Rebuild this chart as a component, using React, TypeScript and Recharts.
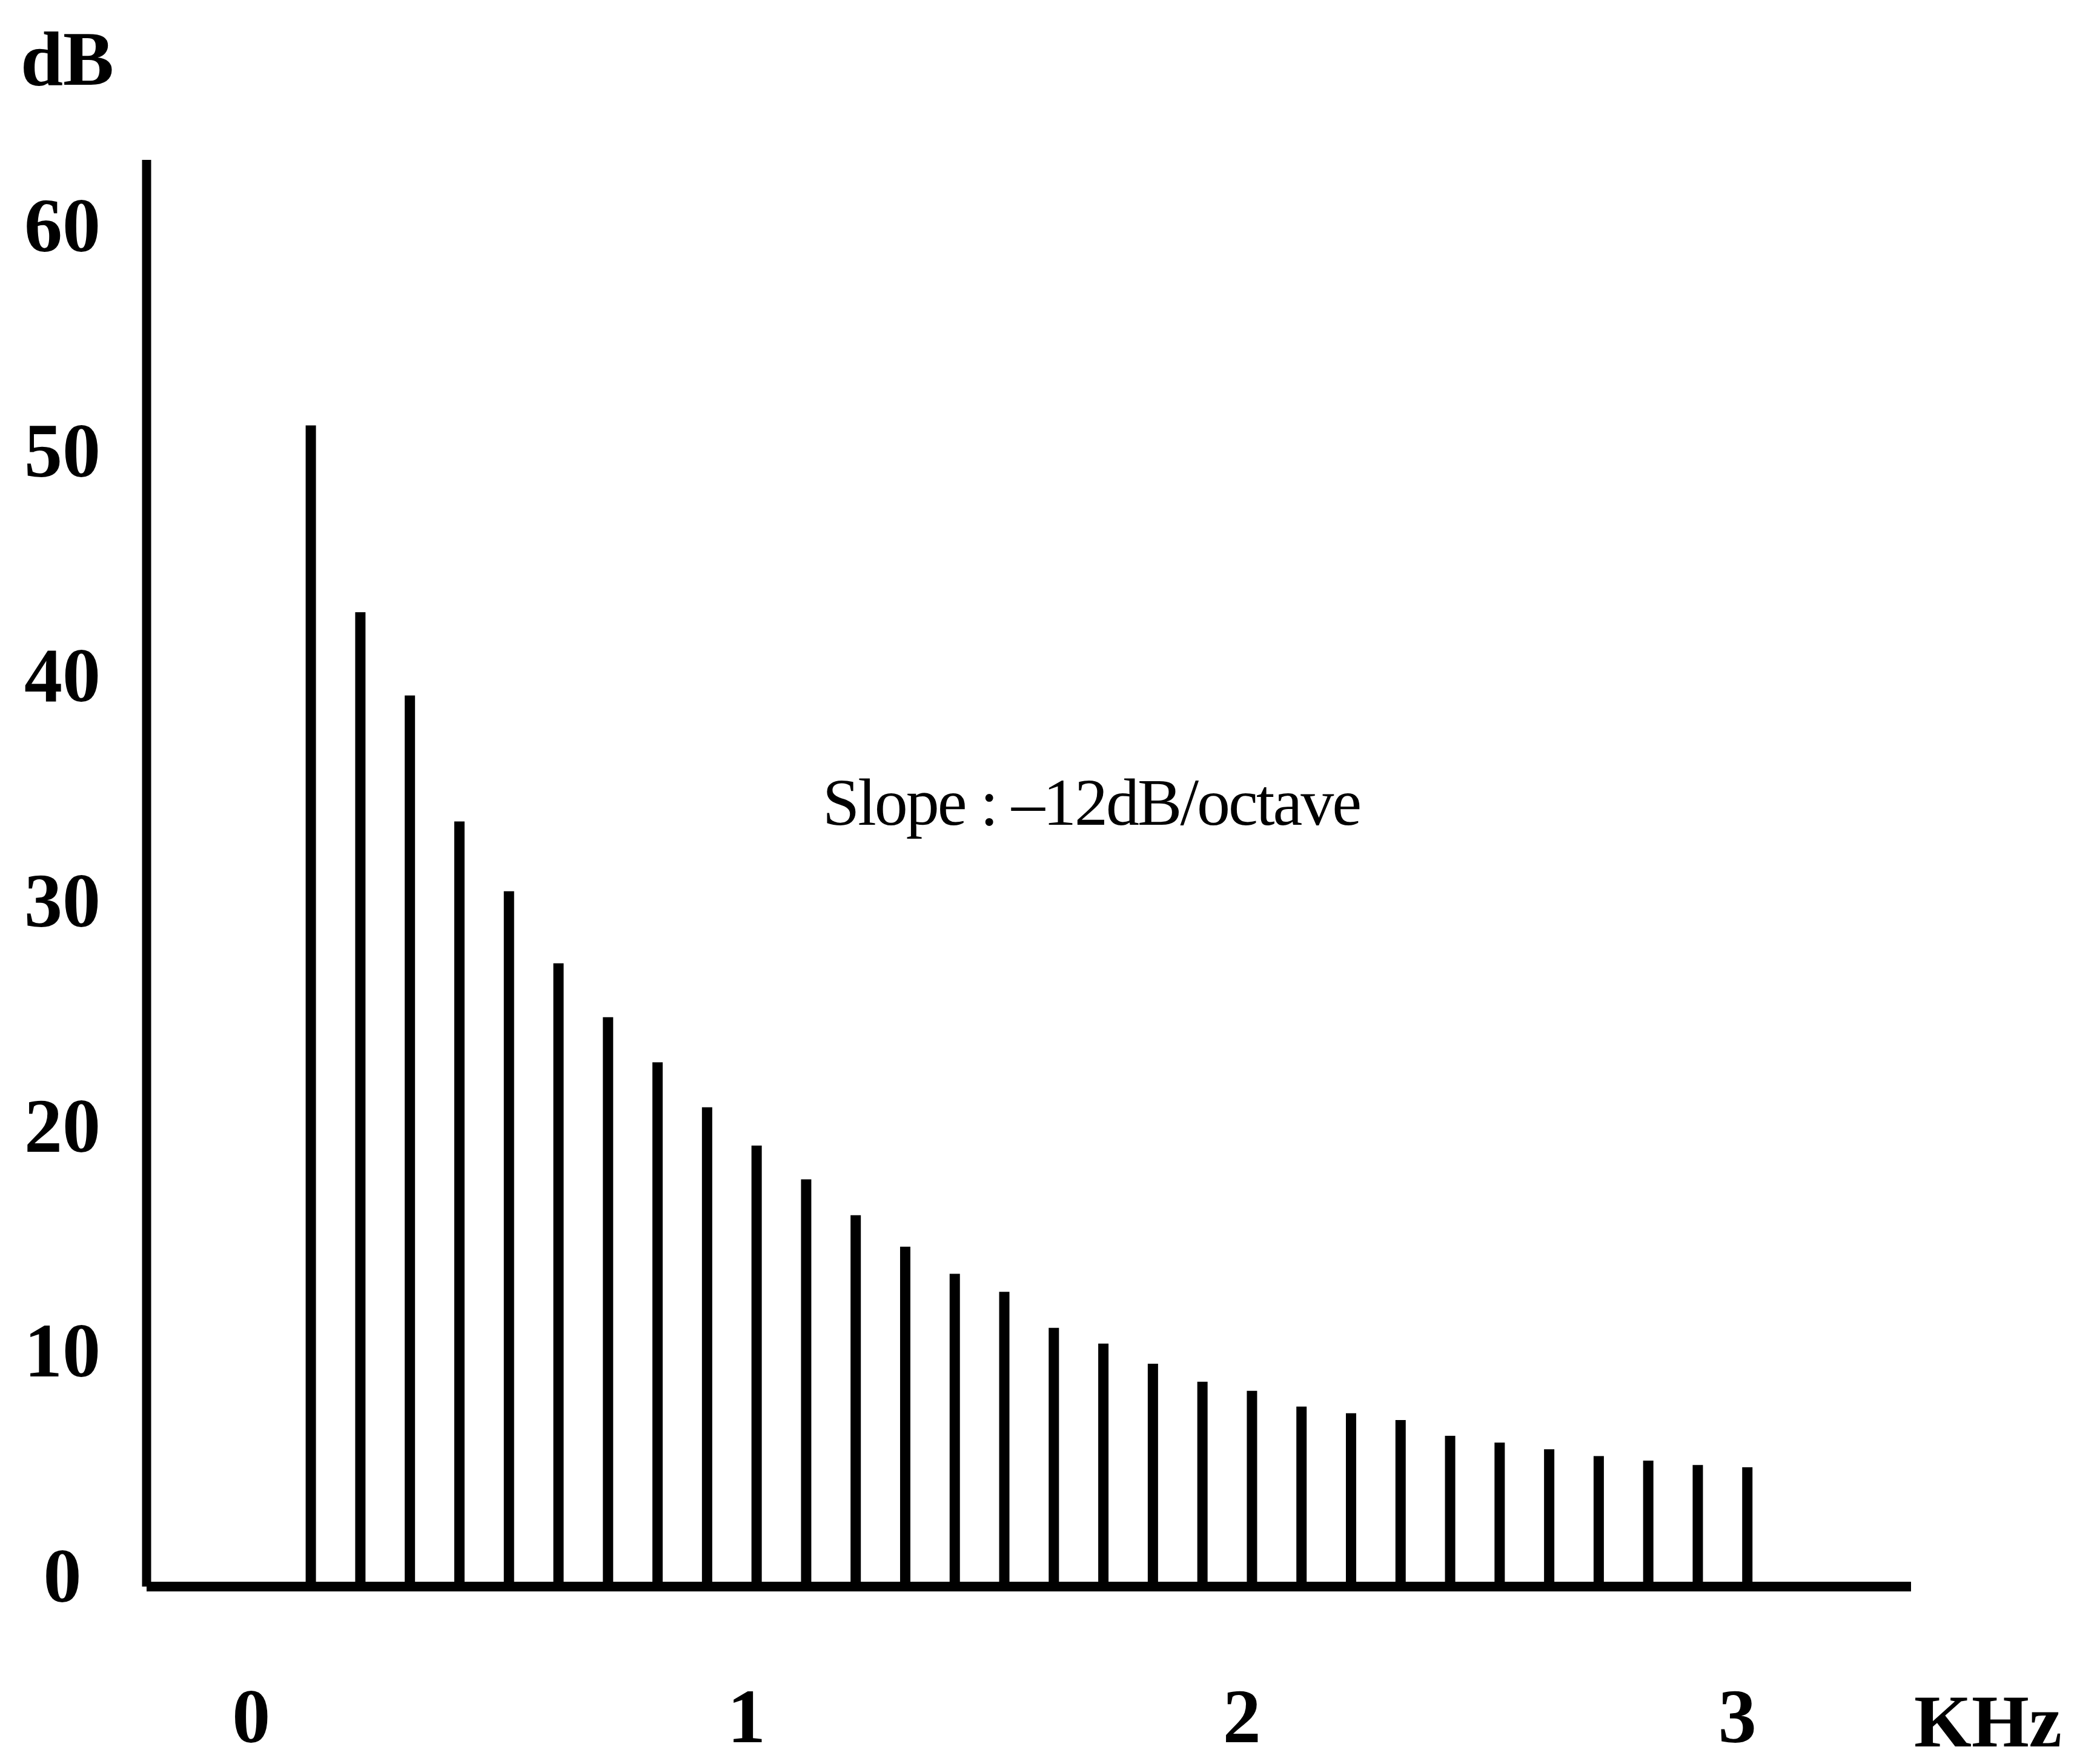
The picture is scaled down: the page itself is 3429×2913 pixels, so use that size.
import { BarChart, Bar, XAxis, YAxis } from 'recharts';

// frequency of each harmonic, kHz
const freqs = [
  0.1, 0.2, 0.3, 0.4, 0.5, 0.6, 0.7, 0.8, 0.9, 1.0,
  1.1, 1.2, 1.3, 1.4, 1.5, 1.6, 1.7, 1.8, 1.9, 2.0,
  2.1, 2.2, 2.3, 2.4, 2.5, 2.6, 2.7, 2.8, 2.9, 3.0,
];
// level of each harmonic, dB
const levels = [
  51.6, 43.3, 39.6, 34.0, 30.9, 27.7, 25.3, 23.3, 21.3, 19.6,
  18.1, 16.5, 15.1, 13.9, 13.1, 11.5, 10.8, 9.9, 9.1, 8.7,
  8.0, 7.7, 7.4, 6.7, 6.4, 6.1, 5.8, 5.6, 5.4, 5.3,
];
const xTicks = [0, 1, 2, 3];
const yTicks = [0, 10, 20, 30, 40, 50, 60];

const data = freqs.map((f, i) => ({ f, db: levels[i] }));

const SERIF = '"Liberation Serif", "Times New Roman", serif';

const YTick = ({ y, payload }: any) => (
  <text x={103} y={y - 18} dy="0.34em" textAnchor="middle" fontFamily={SERIF} fontWeight="bold" fontSize={126} fill="#000">
    {payload.value}
  </text>
);

const XTick = ({ x, payload }: any) => (
  <text x={x - 17} y={2877} textAnchor="middle" fontFamily={SERIF} fontWeight="bold" fontSize={126} fill="#000">
    {payload.value}
  </text>
);

const App = () => {
  return (
    <div style={{ position: 'absolute', left: 0, top: 0, width: 3429, height: 2913, overflow: 'hidden', background: '#fff' }}>
      <BarChart width={3429} height={2913} data={data} margin={{ top: 264, right: 274, bottom: 0, left: 0 }}>
        <XAxis
          type="number"
          dataKey="f"
          domain={[-0.232, 3.33]}
          ticks={xTicks}
          height={293}
          tickLine={false}
          axisLine={{ stroke: '#000', strokeWidth: 16 }}
          tick={<XTick />}
          interval={0}
        />
        <YAxis
          type="number"
          domain={[0, 63.4]}
          ticks={yTicks}
          width={242}
          tickLine={false}
          axisLine={{ stroke: '#000', strokeWidth: 15 }}
          tick={<YTick />}
          interval={0}
        />
        <Bar dataKey="db" fill="#000" barSize={17} isAnimationActive={false} />
      </BarChart>

      <div style={{ position: 'absolute', left: 34, top: 35, fontFamily: SERIF, fontWeight: 'bold', fontSize: 126, lineHeight: 1 }}>dB</div>
      <div style={{ position: 'absolute', left: 3160, top: 2794, fontFamily: SERIF, fontWeight: 'bold', fontSize: 122, lineHeight: 0.8 }}>KHz</div>
      <div style={{ position: 'absolute', left: 1358, top: 1270, fontFamily: SERIF, fontSize: 110, lineHeight: 1, letterSpacing: -3, whiteSpace: 'nowrap' }}>
        Slope : –12dB/octave
      </div>
    </div>
  );
};

export default App;
